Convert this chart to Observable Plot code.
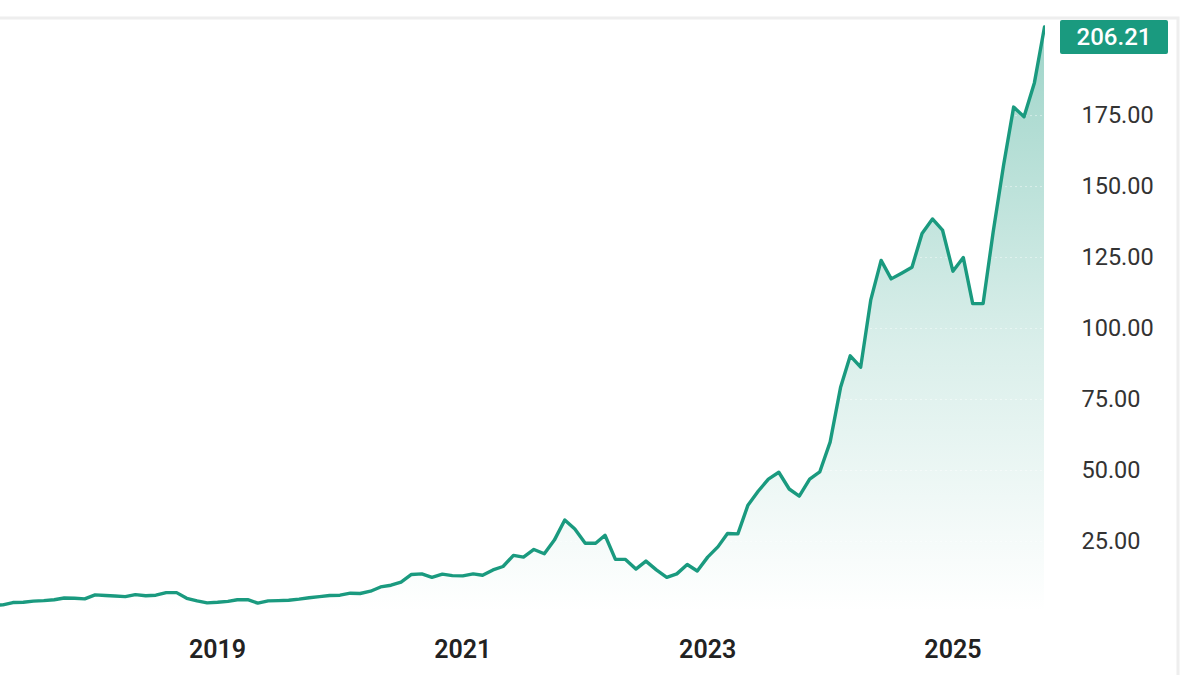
<!DOCTYPE html>
<html>
<head>
<meta charset="utf-8">
<script src="https://cdn.jsdelivr.net/npm/d3@7"></script>
<script src="https://cdn.jsdelivr.net/npm/@observablehq/plot@0.6"></script>
<style>
  html, body { margin: 0; padding: 0; background: #fff; overflow: hidden; }
  #chart svg { display: block; }
</style>
</head>
<body>
<div id="chart"></div>
<script>
// ---- Data (monthly closes) ----
const months = [
  "2017-03","2017-04","2017-05","2017-06","2017-07","2017-08","2017-09","2017-10","2017-11","2017-12",
  "2018-01","2018-02","2018-03","2018-04","2018-05","2018-06","2018-07","2018-08","2018-09","2018-10","2018-11","2018-12",
  "2019-01","2019-02","2019-03","2019-04","2019-05","2019-06","2019-07","2019-08","2019-09","2019-10","2019-11","2019-12",
  "2020-01","2020-02","2020-03","2020-04","2020-05","2020-06","2020-07","2020-08","2020-09","2020-10","2020-11","2020-12",
  "2021-01","2021-02","2021-03","2021-04","2021-05","2021-06","2021-07","2021-08","2021-09","2021-10","2021-11","2021-12",
  "2022-01","2022-02","2022-03","2022-04","2022-05","2022-06","2022-07","2022-08","2022-09","2022-10","2022-11","2022-12",
  "2023-01","2023-02","2023-03","2023-04","2023-05","2023-06","2023-07","2023-08","2023-09","2023-10","2023-11","2023-12",
  "2024-01","2024-02","2024-03","2024-04","2024-05","2024-06","2024-07","2024-08","2024-09","2024-10","2024-11","2024-12",
  "2025-01","2025-02","2025-03","2025-04","2025-05","2025-06","2025-07","2025-08","2025-09","2025-10"
];
const prices = [
  2.5, 2.7, 3.5, 3.6, 4.0, 4.2, 4.5, 5.1, 5.0, 4.8,
  6.2, 6.0, 5.8, 5.6, 6.3, 5.9, 6.1, 7.0, 7.0, 5.0, 4.1, 3.4,
  3.6, 3.9, 4.5, 4.5, 3.3, 4.1, 4.2, 4.3, 4.7, 5.2, 5.6, 6.0,
  6.1, 6.8, 6.7, 7.5, 9.0, 9.6, 10.7, 13.4, 13.6, 12.4, 13.5, 13.0,
  12.9, 13.6, 13.1, 15.0, 16.2, 20.1, 19.5, 22.2, 20.7, 25.5, 32.6, 29.4,
  24.4, 24.4, 27.2, 18.7, 18.7, 15.3, 18.1, 15.0, 12.4, 13.6, 16.9, 14.6,
  19.5, 23.2, 27.8, 27.7, 37.8, 42.8, 47.0, 49.4, 43.5, 41.0, 47.0, 49.5,
  60.0, 79.2, 90.4, 86.4, 110.0, 124.0, 117.5, 119.5, 121.6, 133.5, 138.6, 134.7,
  120.2, 125.0, 108.8, 108.8, 134.0, 157.5, 178.0, 174.6, 186.6, 206.21
];
const yTicks = [25, 50, 75, 100, 125, 150, 175];
const xTickYears = ["2019", "2021", "2023", "2025"];
const lastLabel = "206.21";

const teal = "#1a9a7f";
const parseMonth = d3.utcParse("%Y-%m");
const data = months.map((m, i) => ({date: parseMonth(m), price: prices[i]}));
const xTicks = xTickYears.map(d3.utcParse("%Y"));
const NS = "http://www.w3.org/2000/svg";

function el(name, attrs) {
  const e = document.createElementNS(NS, name);
  for (const k in attrs) e.setAttribute(k, attrs[k]);
  return e;
}

// gradient definition for the area
const defsMark = (index, scales, values, dims) => {
  const defs = el("defs", {});
  const lg = el("linearGradient", {
    id: "tealGrad", gradientUnits: "userSpaceOnUse",
    x1: 0, x2: 0, y1: scales.y(d3.max(prices)), y2: scales.y(0)
  });
  lg.appendChild(el("stop", {offset: "0", "stop-color": teal, "stop-opacity": 0.42}));
  lg.appendChild(el("stop", {offset: "0.55", "stop-color": teal, "stop-opacity": 0.16}));
  lg.appendChild(el("stop", {offset: "1", "stop-color": teal, "stop-opacity": 0.0}));
  defs.appendChild(lg);
  return defs;
};

// last value badge
const badgeMark = (index, scales, values, dims) => {
  const g = el("g", {});
  const yLast = scales.y(prices[prices.length - 1]);
  const h = 34;
  const top = Math.max(dims.marginTop + 2, yLast - h / 2);
  const x0 = dims.width - dims.marginRight + 15;
  g.appendChild(el("rect", {x: x0, y: top, width: 108, height: h, rx: 2, fill: teal}));
  const t = el("text", {
    x: x0 + 54, y: top + h / 2, "text-anchor": "middle", "dominant-baseline": "central",
    fill: "#fff", "font-size": 24, "font-weight": 500, "font-family": "Roboto, sans-serif"
  });
  t.textContent = lastLabel;
  g.appendChild(t);
  return g;
};

// frame lines (top and right borders)
const borderMark = (index, scales, values, dims) => {
  const xr = dims.width - 22;
  return el("path", {
    d: `M0,${dims.marginTop}H${xr}V${dims.height}`,
    fill: "none", stroke: "#eeeeee", "stroke-width": 3
  });
};

const chart = Plot.plot({
  width: 1200,
  height: 675,
  marginLeft: 0,
  marginRight: 155,
  marginTop: 18,
  marginBottom: 63,
  style: {fontFamily: "Roboto, sans-serif", background: "#fff", overflow: "visible"},
  x: {type: "utc", domain: [new Date(Date.UTC(2017, 2, 25)), new Date(Date.UTC(2025, 9, 4))]},
  y: {domain: [0, 209.2]},
  marks: [
    borderMark,
    defsMark,
    Plot.areaY(data, {x: "date", y: "price", fill: "url(#tealGrad)", clip: true}),
    Plot.gridY(yTicks, {stroke: "#ffffff", strokeOpacity: 0.45, strokeDasharray: "2,3"}),
    Plot.lineY(data, {x: "date", y: "price", stroke: teal, strokeWidth: 3.4, strokeLinejoin: "round", clip: true}),
    Plot.axisY(yTicks, {
      anchor: "right", tickSize: 0, tickPadding: 36, label: null,
      tickFormat: d => d.toFixed(2), fontSize: 23.5, fill: "#333"
    }),
    Plot.axisX(xTicks, {
      anchor: "bottom", tickSize: 0, tickPadding: 28, label: null,
      tickFormat: "%Y", fontSize: 25, fontWeight: 600, fill: "#222"
    }),
    badgeMark
  ]
});
document.getElementById("chart").appendChild(chart);
</script>
</body>
</html>
